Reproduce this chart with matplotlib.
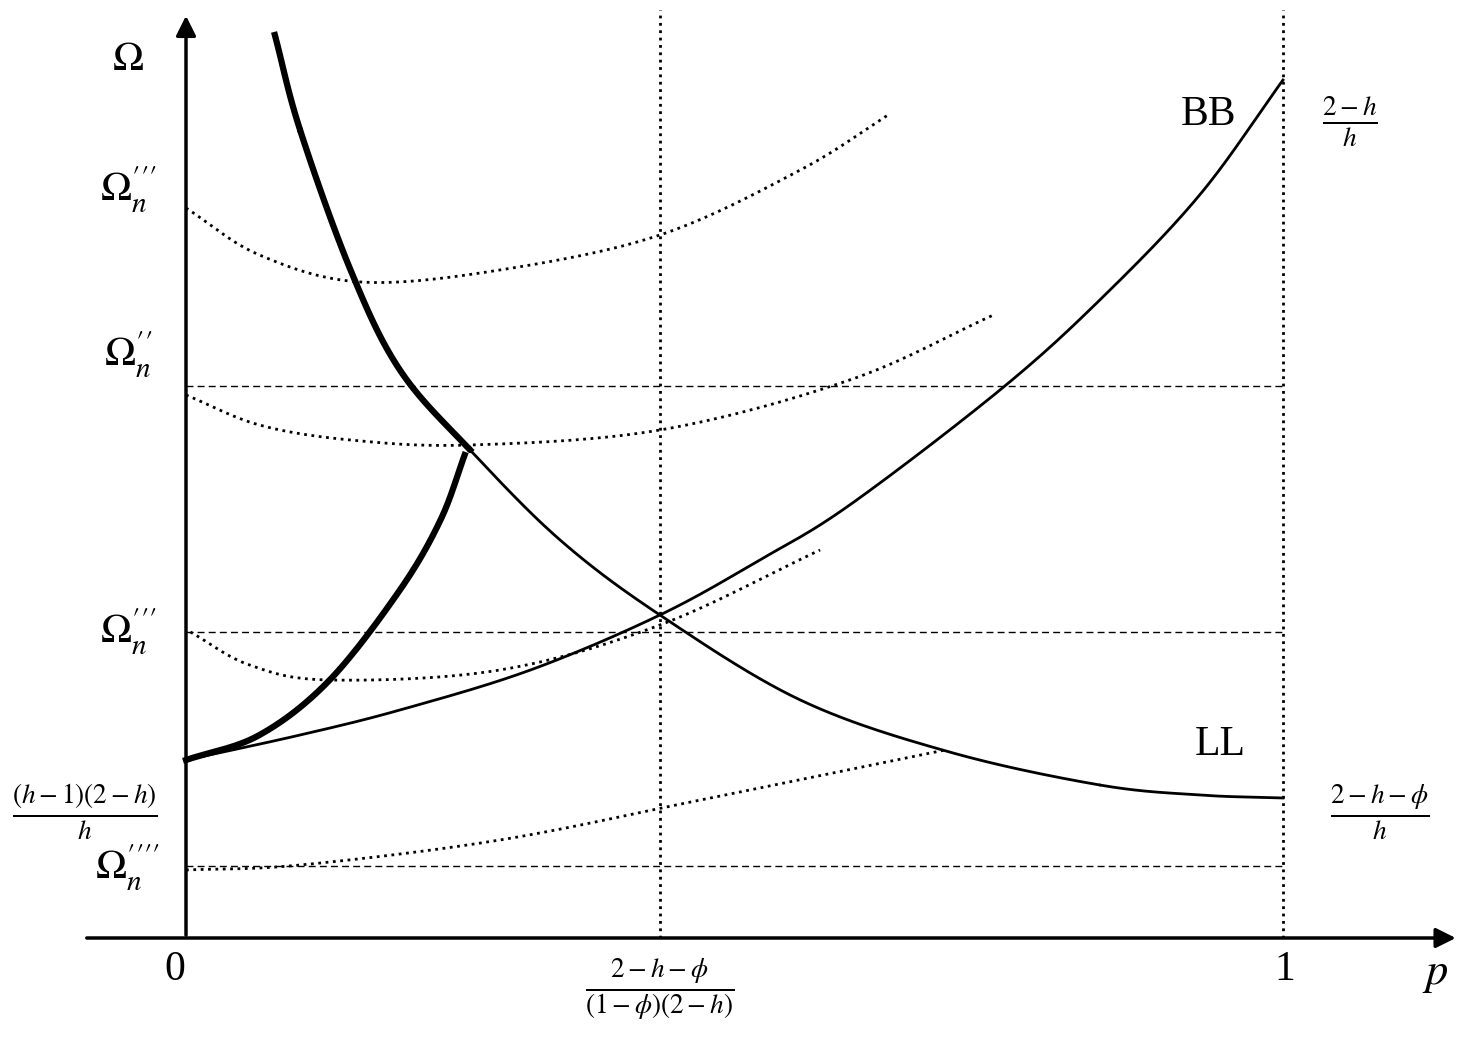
import numpy as np
import matplotlib.pyplot as plt

plt.rcParams['font.family'] = ['Liberation Serif', 'DejaVu Serif']
plt.rcParams['mathtext.fontset'] = 'stix'

# curves, p on x, Omega on y
ll_p = [0.081, 0.104, 0.150, 0.195, 0.259, 0.341, 0.432, 0.560, 0.696, 0.833, 0.924, 1.0]
ll_w = [9.03, 8.08, 6.68, 5.68, 4.88, 3.98, 3.23, 2.38, 1.86, 1.53, 1.43, 1.40]
bb_p = [0.0, 0.104, 0.195, 0.314, 0.432, 0.523, 0.605, 0.742, 0.833, 0.924, 1.0]
bb_w = [1.78, 2.03, 2.28, 2.68, 3.23, 3.78, 4.33, 5.48, 6.38, 7.43, 8.58]
thick_p = [0.0, 0.067, 0.131, 0.195, 0.232, 0.254]
thick_w = [1.78, 2.03, 2.58, 3.48, 4.18, 4.83]
dot_curves = [
    ([0.0, 0.067, 0.159, 0.286, 0.432, 0.560, 0.640], [7.30, 6.83, 6.56, 6.68, 7.03, 7.68, 8.23]),
    ([0.0, 0.067, 0.150, 0.259, 0.432, 0.605, 0.736], [5.43, 5.13, 4.98, 4.93, 5.08, 5.58, 6.23]),
    ([0.004, 0.058, 0.131, 0.286, 0.432, 0.578], [3.06, 2.73, 2.58, 2.68, 3.13, 3.88]),
    ([0.0, 0.104, 0.286, 0.469, 0.692], [0.68, 0.73, 0.98, 1.38, 1.88]),
]
dash_levels = [5.52, 3.06, 0.72]
vlines_p = [0.432, 1.0]


def smooth(xs, ys, n=30):
    # catmull-rom through the read points, just for drawing
    P = np.column_stack([xs, ys])
    P = np.vstack([2 * P[0] - P[1], P, 2 * P[-1] - P[-2]])
    out = []
    t = np.linspace(0, 1, n)[:, None]
    for i in range(1, len(P) - 2):
        p0, p1, p2, p3 = P[i - 1], P[i], P[i + 1], P[i + 2]
        seg = 0.5 * (2 * p1 + (-p0 + p2) * t + (2 * p0 - 5 * p1 + 4 * p2 - p3) * t ** 2
                     + (-p0 + 3 * p1 - 3 * p2 + p3) * t ** 3)
        out.append(seg)
    c = np.vstack(out)
    return c[:, 0], c[:, 1]


fig = plt.figure(figsize=(14.61, 10.38), dpi=100)
ax = fig.add_axes([0, 0, 1, 1])
ax.set_xlim(-186 / 1097, (1461 - 186) / 1097)
ax.set_ylim(-1.0, 9.38)
ax.axis('off')

for lv in dash_levels:
    ax.plot([0, 1], [lv, lv], 'k--', lw=1, dashes=(5, 3))
for vp in vlines_p:
    ax.plot([vp, vp], [0, 9.28], 'k:', lw=2)
for px, wy in dot_curves:
    ax.plot(*smooth(px, wy), 'k:', lw=2)

lx, ly = smooth(ll_p, ll_w)
ax.plot(lx, ly, 'k-', lw=2)
ax.plot(lx[lx <= 0.259], ly[lx <= 0.259], 'k-', lw=4.5)
ax.plot(*smooth(bb_p, bb_w), 'k-', lw=2)
ax.plot(*smooth(thick_p, thick_w), 'k-', lw=4.5)

# axes with arrows
ax.annotate('', xy=(1.16, 0), xytext=(-0.093, 0),
            arrowprops=dict(arrowstyle='-|>', color='k', lw=2.5, mutation_scale=30))
ax.annotate('', xy=(0, 9.25), xytext=(0, 0),
            arrowprops=dict(arrowstyle='-|>', color='k', lw=2.5, mutation_scale=30))


def lab(x, y, s, size=30, **kw):
    fig.text(x / 1461, 1 - y / 1038, s, ha='center', va='center', fontsize=size, **kw)


lab(128, 60, r'$\mathrm{\Omega}$')
lab(128, 190, r"$\mathrm{\Omega}_n^{\prime\prime\prime}$")
lab(128, 355, r"$\mathrm{\Omega}_n^{\prime\prime}$")
lab(128, 632, r"$\mathrm{\Omega}_n^{\prime\prime\prime}$")
lab(128, 868, r"$\mathrm{\Omega}_n^{\prime\prime\prime\prime}$")
lab(85, 812, r'$\frac{(h-1)(2-h)}{h}$', size=28)
lab(175, 970, '0')
lab(1285, 970, '1')
lab(1435, 975, r'$p$', size=32)
lab(660, 990, r'$\frac{2-h-\phi}{(1-\phi)(2-h)}$', size=28)
lab(1208, 115, 'BB')
lab(1350, 122, r'$\frac{2-h}{h}$', size=28)
lab(1220, 745, 'LL')
lab(1380, 812, r'$\frac{2-h-\phi}{h}$', size=28)

fig.savefig('out.png', dpi=100)
